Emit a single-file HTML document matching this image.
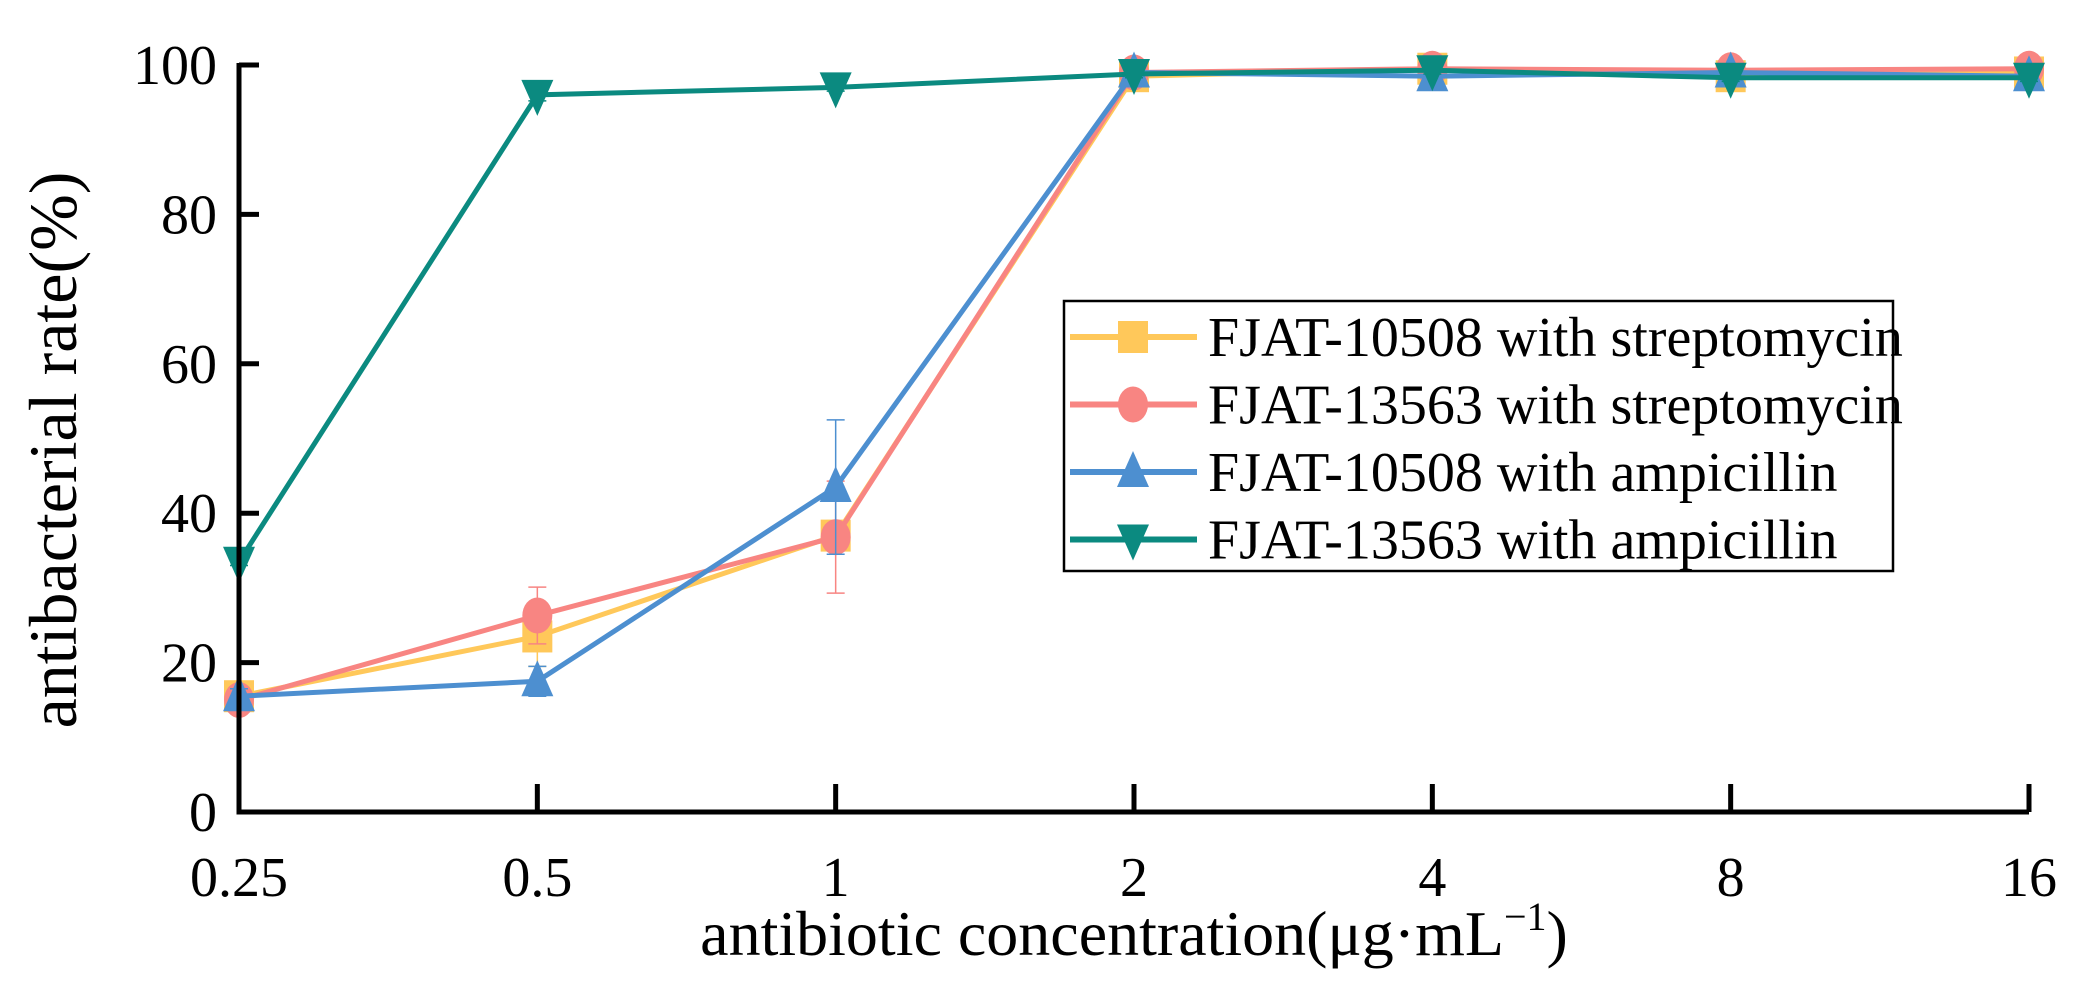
<!DOCTYPE html>
<html><head><meta charset="utf-8"><style>
html,body{margin:0;padding:0;background:#fff}
svg{display:block}
text{font-family:"Liberation Serif",serif}
</style></head><body>
<svg id="chart" width="2079" height="988" viewBox="0 0 2079 988" xmlns="http://www.w3.org/2000/svg" font-family="Liberation Serif, serif"></svg>
<script>
const categories=["0.25","0.5","1","2","4","8","16"];
const yTicks=[0,20,40,60,80,100];
const seriesNames=["FJAT-10508 with streptomycin","FJAT-13563 with streptomycin","FJAT-10508 with ampicillin","FJAT-13563 with ampicillin"];
const s1=[15.5,23.5,37,98.5,99.5,98.5,99];
const s2=[15,26.3,36.8,99,99.5,99.3,99.5];
const s3=[15.5,17.5,43.5,99,98.5,99,98.5];
const s4=[33.5,96,97,98.8,99.3,98.3,98.3];
const e1=[1,4,2,1,0.5,1,1];
const e2=[1,3.8,7.5,0.5,0.5,0.5,0.5];
const e3=[1,2,9,1,1,1,1];
const e4=[0.5,0.8,0.5,0.5,0.5,0.5,0.5];
const NS="http://www.w3.org/2000/svg";
const svg=document.getElementById('chart');
const L=239,R=2029,T=65,B=812;
const x=i=>L+(R-L)*i/(categories.length-1);
const y=v=>B-(B-T)*v/100;
function mk(tag,attrs,parent){const e=document.createElementNS(NS,tag);for(const k in attrs)e.setAttribute(k,attrs[k]);(parent||svg).appendChild(e);return e;}
const colors=["#FFC85A","#F88582","#4D8FD0","#0B8A80"];
const shapes=["square","circle","up","down"];
const data=[s1,s2,s3,s4],errs=[e1,e2,e3,e4];
function marker(shape,cx,cy,col,g){
  const r=18;
  if(shape==="square")return mk('rect',{x:cx-r+3,y:cy-r+2,width:2*r-6,height:2*r-4,fill:col},g);
  if(shape==="circle")return mk('ellipse',{cx:cx,cy:cy,rx:r-3,ry:r,fill:col},g);
  if(shape==="up")return mk('polygon',{points:`${cx},${cy-r-3} ${cx+r-2},${cy+r-3} ${cx-r+2},${cy+r-3}`,fill:col},g);
  return mk('polygon',{points:`${cx},${cy+r+3} ${cx+r-2},${cy-r+3} ${cx-r+2},${cy-r+3}`,fill:col},g);
}
data.forEach((d,si)=>{
  const g=mk('g',{});
  
  
  const pts=d.map((v,i)=>x(i)+','+y(v)).join(' ');
  const pl=mk('polyline',{points:pts,fill:'none',stroke:colors[si],'stroke-width':5},g);
  
  
  d.forEach((v,i)=>{
    const e=errs[si][i];
    const eb=mk('path',{d:`M${x(i)},${y(v+e)}V${y(v-e)}M${x(i)-9},${y(v+e)}H${x(i)+9}M${x(i)-9},${y(v-e)}H${x(i)+9}`,stroke:colors[si],'stroke-width':1.5,fill:'none'},g);
    
    
    const m=marker(shapes[si],x(i),y(v),colors[si],g);
    
    
  });
});
const ax=mk('path',{d:`M${L},${T-2}V${B}H${R}`,stroke:'#000','stroke-width':5,fill:'none'});


yTicks.forEach(t=>{
  const tk=mk('line',{x1:L,x2:L+20,y1:y(t),y2:y(t),stroke:'#000','stroke-width':5});
  
  
  const tx=mk('text',{x:L-22,y:y(t)+19,'text-anchor':'end','font-size':56});
  tx.textContent=t;
  
  
});
categories.forEach((c,i)=>{
  const tk=mk('line',{x1:x(i),x2:x(i),y1:B,y2:B-28,stroke:'#000','stroke-width':5});
  
  
  const tx=mk('text',{x:x(i),y:896,'text-anchor':'middle','font-size':56});
  tx.textContent=c;
  
  
});
const xt=mk('text',{x:1134,y:955,'text-anchor':'middle','font-size':64});
xt.innerHTML='antibiotic concentration(μg·mL<tspan font-size="40" dy="-25">−1</tspan><tspan dy="25">)</tspan>';


const yt=mk('text',{x:0,y:0,'text-anchor':'middle','font-size':68,transform:'translate(76,450) rotate(-90)'});
yt.textContent='antibacterial rate(%)';


const lg=mk('g',{});


mk('rect',{x:1064,y:301,width:829,height:270,fill:'#fff',stroke:'#000','stroke-width':2.5},lg);
seriesNames.forEach((n,si)=>{
  const ey=337+si*67.5;
  const ent=mk('g',{},lg);
  
  
  mk('line',{x1:1070,x2:1197,y1:ey,y2:ey,stroke:colors[si],'stroke-width':6},ent);
  marker(shapes[si],1133,ey,colors[si],ent);
  const t=mk('text',{x:1208,y:ey+19,'font-size':56},ent);
  t.textContent=n;
});
</script>
</body></html>
